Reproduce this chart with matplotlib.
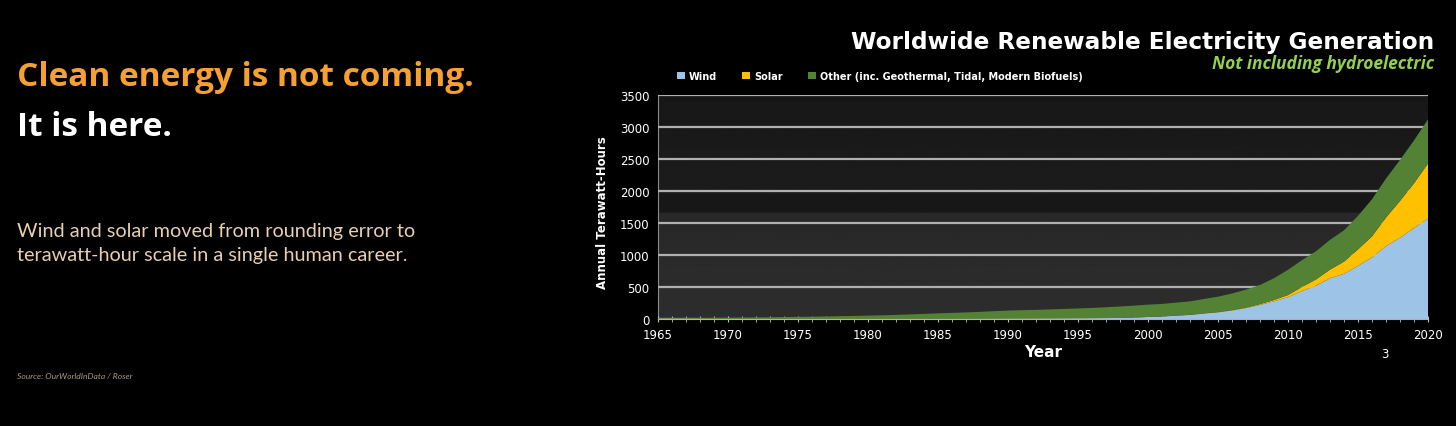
import numpy as np
import matplotlib
matplotlib.use("Agg")
import matplotlib.pyplot as plt
from matplotlib import font_manager

# ---------- data (TWh per year) ----------
years = list(range(1965, 2021))

wind = [0] * 20 + [
    0.3, 0.5, 1, 1.5, 2.5,                       # 1985-1989
    3.6, 4.1, 4.7, 5.7, 7.1, 8.3, 10.5, 13.2, 16.5, 21.5,   # 1990-1999
    31, 38, 52, 63, 85, 104, 133, 171, 220, 277,             # 2000-2009
    342, 437, 521, 636, 706, 831, 962, 1140, 1270, 1420,     # 2010-2019
    1570]                                                    # 2020

solar = [0] * 25 + [
    0.1, 0.1, 0.2, 0.2, 0.3,                     # 1990-1994
    0.4, 0.5, 0.6, 0.8, 0.9,                     # 1995-1999
    1.1, 1.4, 1.8, 2.4, 3.4, 4.4, 5.8, 7.6, 12, 20,          # 2000-2009
    32, 63, 97, 135, 190, 256, 329, 445, 575, 700,           # 2010-2019
    860]

other = [
    10, 11, 12, 14, 16, 18, 20, 23, 26, 30,                  # 1965-1974
    33, 36, 40, 44, 48, 53, 58, 64, 72, 80,                  # 1975-1984
    88, 95, 102, 110, 120, 128, 134, 138, 144, 150,          # 1985-1994
    156, 162, 170, 178, 186, 192, 196, 202, 210, 225,        # 1995-2004
    240, 260, 280, 300, 340, 395, 420, 440, 465, 490,        # 2005-2014
    525, 580, 610, 640, 670, 690]                            # 2015-2020

labels = ["Wind", "Solar", "Other (inc. Geothermal, Tidal, Modern Biofuels)"]
colors = ["#9dc3e6", "#ffc000", "#548235"]

# narrow font for the y label, if one is around
installed = {f.name for f in font_manager.fontManager.ttflist}
narrow = next((n for n in ["Liberation Sans Narrow", "DejaVu Sans Condensed"]
               if n in installed), "DejaVu Sans")
ylab_size = 11 if narrow == "Liberation Sans Narrow" else 8.5

# ---------- figure ----------
fig = plt.figure(figsize=(14.56, 4.27), dpi=100)
fig.patch.set_facecolor("black")

ax = fig.add_axes([658 / 1456, 107 / 427, 770 / 1456, 224 / 427])
ax.set_facecolor("#222222")

# dark photo-like backdrop (sky / tree line / panels)
grad = np.linspace(0, 1, 200).reshape(-1, 1)
shade = 0.18 - 0.05 * grad
shade[95:112] = 0.09
shade[112:] = 0.11 - 0.04 * (grad[112:] - grad[112])
ax.imshow(np.repeat(shade, 2, axis=1), cmap="gray", vmin=0, vmax=1,
          extent=[1965, 2020, 3500, 0], aspect="auto", zorder=0)
ax.invert_yaxis()

ax.stackplot(years, wind, solar, other, colors=colors, labels=labels,
             linewidth=0, zorder=3)

ax.set_xlim(1965, 2020)
ax.set_ylim(0, 3500)
ax.set_yticks(range(0, 3501, 500))
ax.set_xticks(range(1965, 2021, 5))
ax.set_xticks(range(1965, 2021), minor=True)
ax.grid(axis="y", color="#b0b0b0", linewidth=1.6, zorder=2)
ax.set_axisbelow(False)

for s in ["top", "right"]:
    ax.spines[s].set_visible(False)
ax.spines["left"].set_color("#8a8a8a")
ax.spines["bottom"].set_color("#b0b0b0")
ax.spines["bottom"].set_zorder(5)

ax.tick_params(axis="both", colors="white", labelsize=8.5)
ax.tick_params(axis="y", length=0, pad=6)
ax.tick_params(axis="x", which="both", direction="inout", length=5,
               color="#c0c0c0", pad=4)

ax.set_xlabel("Year", color="white", fontsize=11, fontweight="bold",
              labelpad=2)
ax.set_ylabel("Annual Terawatt-Hours", color="white", fontsize=ylab_size,
              fontweight="bold", family=narrow)
ax.yaxis.set_label_coords(-0.063, 0.48)

leg = ax.legend(loc="center left", bbox_to_anchor=(0.02, 1.085), ncol=3,
                frameon=False, fontsize=7, handlelength=0.8,
                handleheight=0.8, handletextpad=0.4, columnspacing=2.6,
                borderaxespad=0)
for t in leg.get_texts():
    t.set_color("white")
    t.set_fontweight("bold")

# chart titles
fig.text(1434 / 1456, 1 - 43 / 427,
         "Worldwide Renewable Electricity Generation", color="white",
         fontsize=16.7, fontweight="bold", family="DejaVu Sans",
         ha="right", va="center")
fig.text(1434 / 1456, 1 - 64 / 427, "Not including hydroelectric",
         color="#92d050", fontsize=12.5, fontweight="bold", style="italic",
         family="Open Sans", ha="right", va="center")
fig.text(1385 / 1456, 1 - 354 / 427, "3", color="white", fontsize=8.5,
         ha="center", va="center")

# left-side slide text
fig.text(17 / 1456, 1 - 78 / 427, "Clean energy is not coming.",
         color="#f5a030", fontsize=24, fontweight="bold", family="Open Sans",
         ha="left", va="center")
fig.text(17 / 1456, 1 - 128 / 427, "It is here.", color="white",
         fontsize=24, fontweight="bold", family="Open Sans",
         ha="left", va="center")
fig.text(17 / 1456, 1 - 231 / 427,
         "Wind and solar moved from rounding error to", color="#e8cfb0",
         fontsize=14.3, family="Lato", ha="left", va="center")
fig.text(17 / 1456, 1 - 256 / 427,
         "terawatt-hour scale in a single human career.", color="#e8cfb0",
         fontsize=14.3, family="Lato", ha="left", va="center")
fig.text(17 / 1456, 1 - 377 / 427, "Source: OurWorldInData / Roser",
         color="#a89a8a", fontsize=6.1, style="italic", family="Lato",
         ha="left", va="center")

fig.savefig("out.png", dpi=100, facecolor=fig.get_facecolor())
